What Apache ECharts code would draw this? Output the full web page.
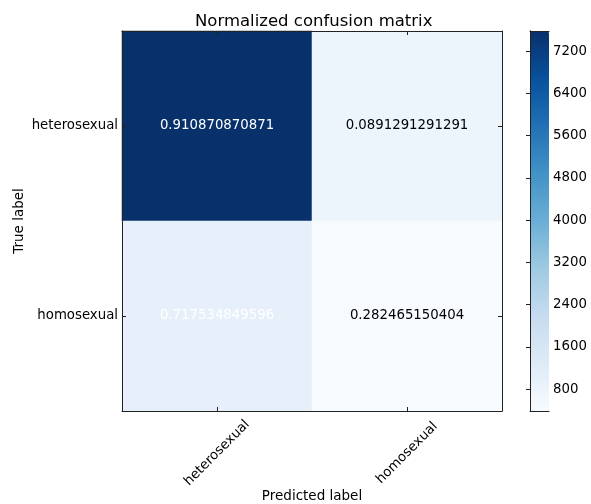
<!DOCTYPE html>
<html>
<head>
<meta charset="utf-8">
<script src="https://cdn.jsdelivr.net/npm/echarts@6/dist/echarts.min.js"></script>
<style>html,body{margin:0;padding:0;background:#fff}#c{width:591px;height:504px}</style>
</head>
<body>
<div id="c"></div>
<script>
const classes = ['heterosexual', 'homosexual'];
const counts = [[7583, 742], [978, 385]];
const normalized = [[0.910870870871, 0.0891291291291], [0.717534849596, 0.282465150404]];
const colorbarTicks = [800, 1600, 2400, 3200, 4000, 4800, 5600, 6400, 7200];
const colorMin = 385;
const colorMax = 7583;

const FONT = 'DejaVu Sans';
const LINE = '#222';
const blues = ['#f7fbff', '#deebf7', '#c6dbef', '#9ecae1', '#6baed6', '#4292c6', '#2171b5', '#08519c', '#08306b'];

const thresh = Math.max(...normalized.flat()) / 2;
const cells = [];
for (let i = 0; i < classes.length; i++) {
  for (let j = 0; j < classes.length; j++) {
    cells.push({
      value: [j, i, counts[i][j]],
      label: { color: normalized[i][j] > thresh ? '#fff' : '#000' }
    });
  }
}

const lineOnly = (extra) => Object.assign({
  axisLine: { show: true, lineStyle: { color: LINE, width: 1 } },
  axisTick: { show: false },
  axisLabel: { show: false },
  splitLine: { show: false },
  z: 10
}, extra);

const chart = echarts.init(document.getElementById('c'));
chart.setOption({
  animation: false,
  backgroundColor: '#fff',
  textStyle: { fontFamily: FONT },
  title: {
    text: 'Normalized confusion matrix',
    left: 195, top: 13,
    padding: 0,
    textStyle: { fontFamily: FONT, fontSize: 16.5, fontWeight: 'normal', color: '#000' }
  },
  grid: [
    { left: 122, top: 31, width: 380, height: 380, outerBoundsMode: 'none', containLabel: false },
    { left: 530, top: 31, width: 19, height: 380, outerBoundsMode: 'none', containLabel: false }
  ],
  xAxis: [
    {
      type: 'category', data: classes, gridIndex: 0, position: 'bottom',
      axisLine: { show: true, lineStyle: { color: LINE, width: 1 } },
      axisTick: { show: true, inside: true, alignWithLabel: true, length: 4, lineStyle: { color: LINE } },
      axisLabel: { rotate: 45, align: 'center', verticalAlign: 'middle', margin: 42, fontSize: 13.3, color: '#000', fontFamily: FONT },
      splitLine: { show: false },
      name: 'Predicted label', nameLocation: 'middle', nameGap: 78, nameMoveOverlap: false,
      nameTextStyle: { fontSize: 13.5, color: '#000', fontFamily: FONT },
      z: 10
    },
    {
      type: 'category', data: classes, gridIndex: 0, position: 'top',
      axisLine: { show: true, lineStyle: { color: LINE, width: 1 } },
      axisTick: { show: true, inside: true, alignWithLabel: true, length: 4, lineStyle: { color: LINE } },
      axisLabel: { show: false },
      splitLine: { show: false },
      z: 10
    },
    lineOnly({ type: 'value', gridIndex: 1, position: 'bottom', min: 0, max: 1 }),
    lineOnly({ type: 'value', gridIndex: 1, position: 'top', min: 0, max: 1 })
  ],
  yAxis: [
    {
      type: 'category', data: classes, gridIndex: 0, position: 'left', inverse: true,
      axisLine: { show: true, lineStyle: { color: LINE, width: 1 } },
      axisTick: { show: true, inside: true, alignWithLabel: true, length: 4, lineStyle: { color: LINE } },
      axisLabel: { margin: 4, fontSize: 13.3, color: '#000', fontFamily: FONT },
      splitLine: { show: false },
      name: 'True label', nameLocation: 'middle', nameGap: 96, nameRotate: 90, nameMoveOverlap: false,
      nameTextStyle: { fontSize: 13.5, color: '#000', fontFamily: FONT },
      z: 10
    },
    {
      type: 'category', data: classes, gridIndex: 0, position: 'right', inverse: true,
      axisLine: { show: true, lineStyle: { color: LINE, width: 1 } },
      axisTick: { show: true, inside: true, alignWithLabel: true, length: 4, lineStyle: { color: LINE } },
      axisLabel: { show: false },
      splitLine: { show: false },
      z: 10
    },
    lineOnly({ type: 'value', gridIndex: 1, position: 'left', min: colorMin, max: colorMax }),
    {
      type: 'value', gridIndex: 1, position: 'right', min: colorMin, max: colorMax,
      axisLine: { show: true, lineStyle: { color: LINE, width: 1 } },
      axisTick: { show: true, inside: true, length: 4, customValues: colorbarTicks, lineStyle: { color: LINE } },
      axisLabel: { show: true, margin: 4, customValues: colorbarTicks, formatter: (v) => String(v), fontSize: 13.3, color: '#000', fontFamily: FONT },
      splitLine: { show: false },
      z: 10
    }
  ],
  visualMap: {
    type: 'continuous',
    min: colorMin, max: colorMax,
    seriesIndex: 0, dimension: 2,
    inRange: { color: blues },
    show: true, calculable: false, hoverLink: false,
    orient: 'vertical',
    left: 530, top: 31, padding: 0,
    itemWidth: 19, itemHeight: 380,
    text: null
  },
  series: [{
    type: 'heatmap',
    xAxisIndex: 0, yAxisIndex: 0,
    data: cells,
    label: {
      show: true,
      fontSize: 13.3, fontFamily: FONT,
      formatter: (p) => String(normalized[p.value[1]][p.value[0]])
    },
    emphasis: { disabled: true }
  }]
});
</script>
</body>
</html>
